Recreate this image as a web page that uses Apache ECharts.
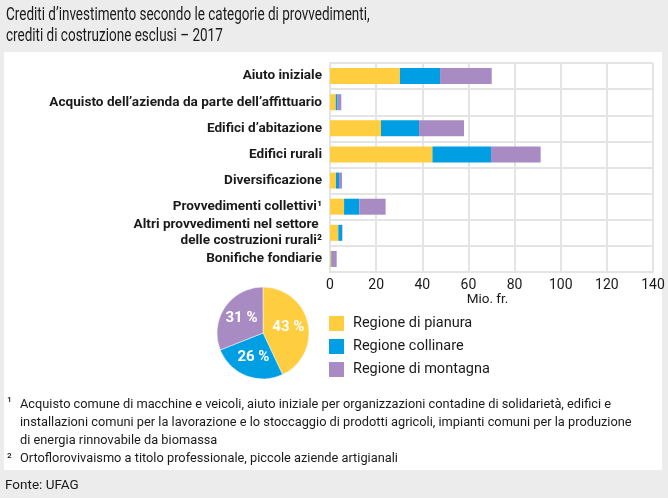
<!DOCTYPE html>
<html><head><meta charset="utf-8">
<script src="https://cdn.jsdelivr.net/npm/echarts@6/dist/echarts.min.js"></script>
<style>html,body{margin:0;padding:0;background:#ececec}#c{width:668px;height:498px}</style>
</head><body><div id="c"></div>
<script>
const FONT = 'Roboto, sans-serif';
const categories = [
  'Aiuto iniziale',
  'Acquisto dell\u2019azienda da parte dell\u2019affittuario',
  'Edifici d\u2019abitazione',
  'Edifici rurali',
  'Diversificazione',
  'Provvedimenti collettivi\u00b9',
  'Altri provvedimenti nel settore \ndelle costruzioni rurali\u00b2',
  'Bonifiche fondiarie'
];
const seriesNames = ['Regione di pianura', 'Regione collinare', 'Regione di montagna'];
const pianura   = [30.3, 2.5, 22.1, 44.4, 2.6, 6.1, 3.6, 0.4];
const collinare = [17.4, 0.8, 16.5, 25.4, 1.3, 6.6, 1.6, 0.3];
const montagna  = [22.4, 1.6, 19.5, 21.5, 1.3, 11.4, 0.2, 2.2];
const pieShares = [43, 26, 31];
const xTicks = [0, 20, 40, 60, 80, 100, 120, 140];
const colors = ['#ffcd40', '#009fe3', '#a88bc2'];

const chart = echarts.init(document.getElementById('c'));
const barData = [pianura, collinare, montagna];
const series = seriesNames.map((n, i) => ({
  name: n, type: 'bar', stack: 'tot', barWidth: 16,
  itemStyle: { color: colors[i] },
  data: barData[i],
  z: 3
}));
series.push({
  type: 'pie', center: [263, 333], radius: 46, startAngle: 90, clockwise: true,
  silent: true,
  itemStyle: { borderColor: '#fff', borderWidth: 0.5 },
  label: { position: 'inside', formatter: '{c} %', color: '#fff', fontFamily: FONT, fontSize: 15, fontWeight: 'bold' },
  labelLine: { show: false },
  data: seriesNames.map((n, i) => ({ name: n, value: pieShares[i], itemStyle: { color: colors[i] } }))
});

chart.setOption({
  animation: false,
  backgroundColor: '#ececec',
  textStyle: { fontFamily: FONT },
  graphic: [
    { type: 'rect', shape: { x: 4, y: 52, width: 658, height: 418 }, style: { fill: '#ffffff' }, z: -10, silent: true },
    { type: 'text', x: 6, y: 5, scaleX: 0.75, style: { text: 'Crediti d\u2019investimento secondo le categorie di provvedimenti,\ncrediti di costruzione esclusi \u2013 2017', font: '18px ' + FONT, fill: '#1a1a1a', lineHeight: 21 } },
    { type: 'text', left: 7, top: 396, style: { text: '\u00b9', font: '13px ' + FONT, fill: '#1a1a1a' } },
    { type: 'text', left: 20, top: 396, style: { text: 'Acquisto comune di macchine e veicoli, aiuto iniziale per organizzazioni contadine di solidariet\u00e0, edifici e\ninstallazioni comuni per la lavorazione e lo stoccaggio di prodotti agricoli, impianti comuni per la produzione\ndi energia rinnovabile da biomassa', font: '12.8px ' + FONT, fill: '#1a1a1a', lineHeight: 18 } },
    { type: 'text', left: 7, top: 452, style: { text: '\u00b2', font: '13px ' + FONT, fill: '#1a1a1a' } },
    { type: 'text', left: 20, top: 452, style: { text: 'Ortoflorovivaismo a titolo professionale, piccole aziende artigianali', font: '12.8px ' + FONT, fill: '#1a1a1a' } },
    { type: 'text', left: 5, top: 479, style: { text: 'Fonte: UFAG', font: '13.5px ' + FONT, fill: '#1a1a1a' } }
  ],
  legend: {
    data: seriesNames, orient: 'vertical', left: 324, top: 311,
    icon: 'rect', itemWidth: 15, itemHeight: 15, itemGap: 8,
    selectedMode: false,
    textStyle: { fontFamily: FONT, fontSize: 14.5, color: '#1a1a1a', padding: [0, 0, 0, 4] }
  },
  grid: { left: 330, right: 15, top: 63, bottom: 226, containLabel: false },
  xAxis: {
    type: 'value', min: 0, max: 140, interval: 20,
    name: 'Mio. fr.', nameLocation: 'middle', nameGap: 21,
    nameTextStyle: { fontFamily: FONT, fontSize: 13.5, color: '#1a1a1a', padding: [0, 8, 0, 0] },
    axisLine: { show: true, lineStyle: { color: '#e4e4e4', width: 2 } },
    axisTick: { show: false },
    axisLabel: { fontFamily: FONT, fontSize: 14, color: '#1a1a1a', margin: 6,
      formatter: v => xTicks.includes(v) ? String(v) : '' },
    splitLine: { show: true, lineStyle: { color: '#e4e4e4', width: 2 } }
  },
  yAxis: {
    type: 'category', inverse: true, data: categories,
    axisLine: { show: true, lineStyle: { color: '#e4e4e4', width: 2 } },
    axisTick: { show: false },
    axisLabel: { fontFamily: FONT, fontSize: 13.6, fontWeight: 'bold', color: '#1a1a1a', margin: 8, lineHeight: 16, align: 'right' },
    splitLine: { show: true, lineStyle: { color: '#e4e4e4', width: 2 } }
  },
  series: series
});
</script></body></html>
